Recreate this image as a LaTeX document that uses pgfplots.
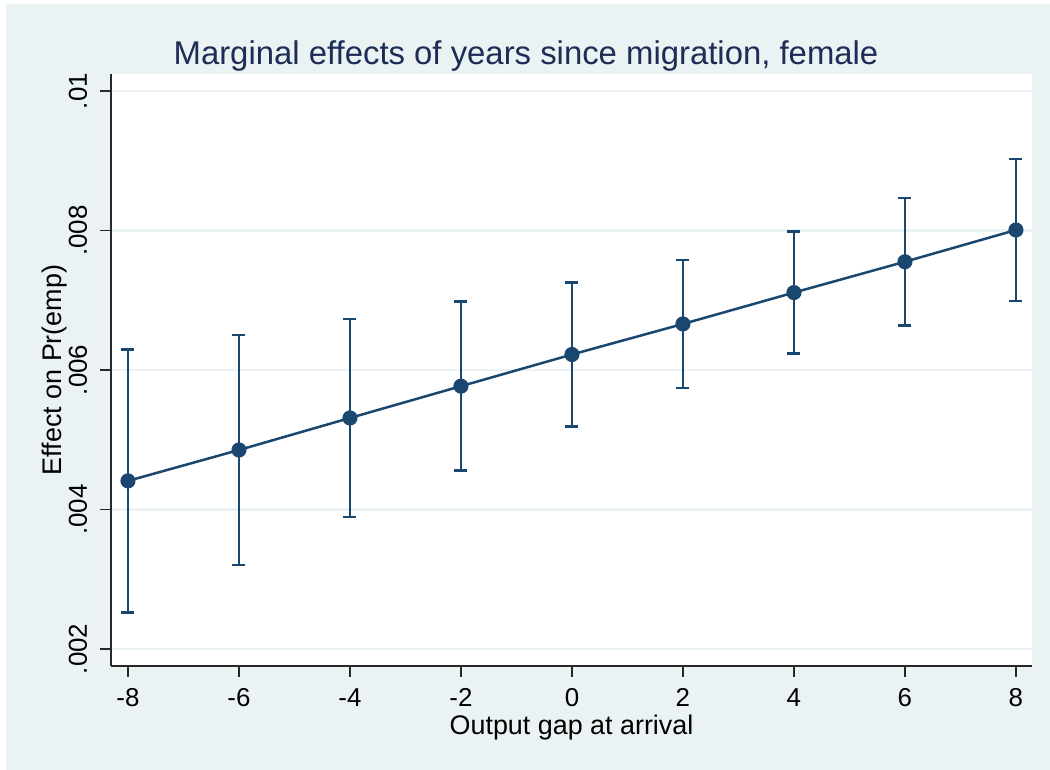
\documentclass[border=0pt]{standalone}
\usepackage{fontspec}
\setmainfont{Liberation Sans}
\usepackage{pgfplots}
\pgfplotsset{compat=1.18}
\definecolor{bgc}{RGB}{234,242,243}
\definecolor{navyc}{RGB}{26,71,111}
\definecolor{titlec}{RGB}{30,45,85}
\definecolor{axc}{RGB}{40,40,40}
\begin{document}
\begin{tikzpicture}[x=1bp,y=1bp]
\path[use as bounding box] (0,0) rectangle (1050,770);
\fill[bgc] (6,0) rectangle (1050,766);
\node[anchor=base, font=\fontsize{33}{40}\selectfont, text=titlec, inner sep=0] at (526,705) {Marginal effects of years since migration, female};
\begin{axis}[
  at={(111bp,104bp)}, anchor=south west,
  scale only axis, width=921bp, height=592bp,
  xmin=-8.306, xmax=8.29, ymin=0.001756, ymax=0.010244,
  axis background/.style={fill=white},
  axis lines=left,
  axis line style={-, axc, line width=1.8bp},
  tick style={axc, line width=1.8bp},
  tick align=outside, major tick length=11bp,
  xtick={-8,-6,-4,-2,0,2,4,6,8},
  xticklabels={-8,-6,-4,-2,0,2,4,6,8},
  ytick={0.002,0.004,0.006,0.008,0.01},
  yticklabels={.002,.004,.006,.008,.01},
  scaled y ticks=false,
  ymajorgrids, major grid style={bgc, line width=2.5bp},
  tick label style={font=\fontsize{26}{31}\selectfont, text=black},
  /pgf/number format/assume math mode=true,
  yticklabel style={xshift=-13bp, rotate=90, anchor=base, inner sep=0pt},
  xticklabel style={yshift=-30bp, anchor=base, inner sep=0pt},
  xlabel={Output gap at arrival},
  ylabel={Effect on Pr(emp)},
  label style={font=\fontsize{27}{32}\selectfont},
  xlabel style={at={(axis description cs:0.5,-0.1155)}, anchor=base, inner sep=0pt},
  ylabel style={at={(axis description cs:-0.0532,0.5)}, anchor=base, inner sep=0pt},
  clip=false,
]
\addplot[navyc, line width=2.5bp, mark=*, mark size=6.3bp,
  mark options={solid, fill=navyc, draw=navyc},
  error bars/.cd, y dir=both, y explicit,
  error bar style={line width=2.5bp, navyc},
  error mark options={navyc, line width=2.5bp, mark size=6.5bp, rotate=90}]
coordinates {
  (-8,0.004410) +- (0,0.001886)
  (-6,0.004853) +- (0,0.001649)
  (-4,0.005312) +- (0,0.001420)
  (-2,0.005768) +- (0,0.001212)
  (0,0.006222) +- (0,0.001032)
  (2,0.006660) +- (0,0.000918)
  (4,0.007110) +- (0,0.000875)
  (6,0.007552) +- (0,0.000911)
  (8,0.008007) +- (0,0.001018)
};
\end{axis}
\end{tikzpicture}
\end{document}
